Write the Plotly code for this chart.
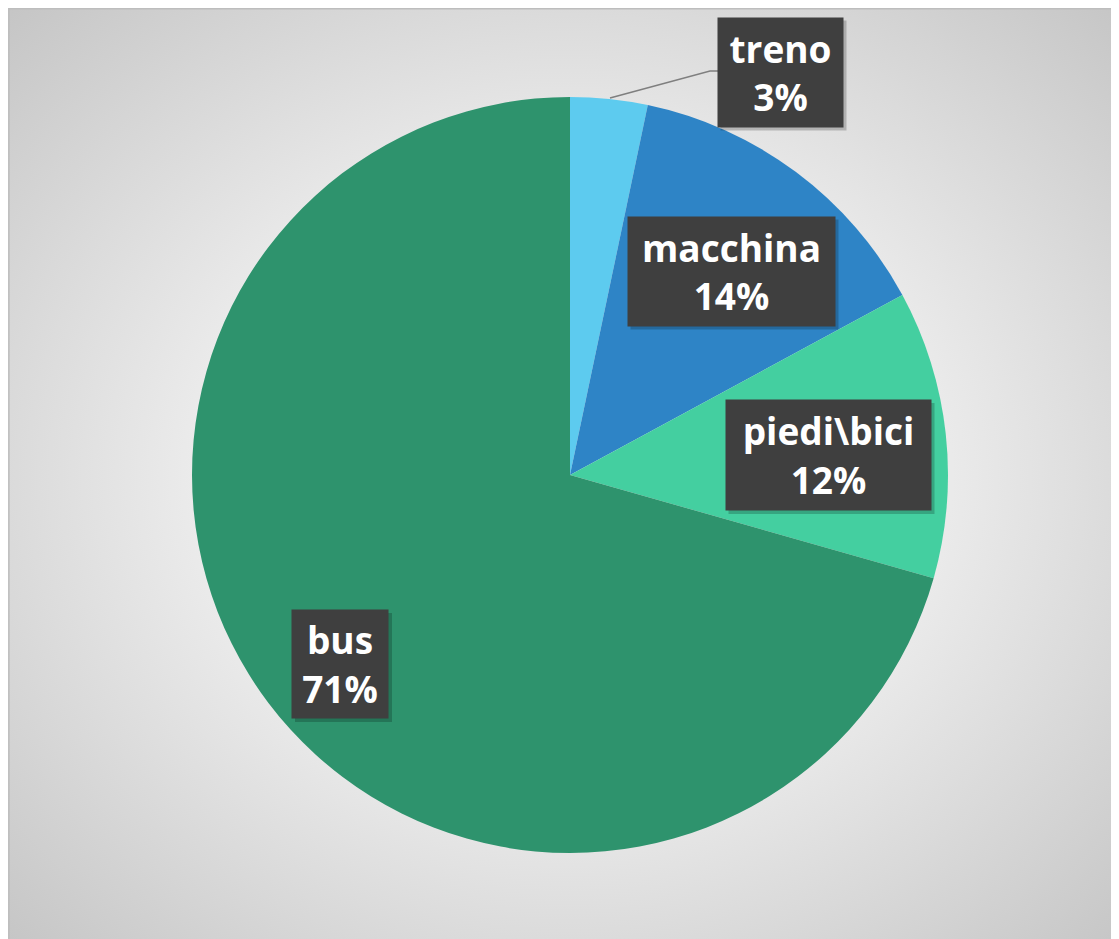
import base64
import plotly.graph_objects as go

W, H = 1119, 939
OFF = 8  # page body margin

categories = ["treno", "macchina", "piedi\\bici", "bus"]
values = [3.3, 13.8, 12.3, 70.6]
colors = ["#5DCBEF", "#2E84C6", "#44CFA0", "#2E936D"]

# label box centers (screen pixels) and sizes
label_pos = [(780, 72, 125, 109), (731, 271, 207, 109), (828, 455, 205, 110), (340, 664, 96, 108)]


def px(x):
    return (x - OFF) / W


def py(y):
    return 1 - (y - OFF) / H


svg = (
    f'<svg xmlns="http://www.w3.org/2000/svg" width="{W}" height="{H}" preserveAspectRatio="none">'
    '<defs><radialGradient id="g" cx="0.5" cy="0.5" r="0.72" gradientUnits="objectBoundingBox">'
    '<stop offset="0" stop-color="#f3f3f3"/><stop offset="0.45" stop-color="#ececec"/>'
    '<stop offset="1" stop-color="#c4c4c4"/></radialGradient></defs>'
    f'<rect width="{W}" height="{H}" fill="url(#g)"/></svg>'
)
src = "data:image/svg+xml;base64," + base64.b64encode(svg.encode()).decode()

cx, cy, R = 570, 475, 378

fig = go.Figure(
    go.Pie(
        labels=categories,
        values=values,
        sort=False,
        direction="clockwise",
        rotation=0,
        marker=dict(colors=colors, line=dict(width=0)),
        textinfo="none",
        hoverinfo="label+percent",
        domain=dict(x=[px(cx - R), px(cx + R)], y=[py(cy + R), py(cy - R)]),
        showlegend=False,
    )
)

shapes = [
    dict(type="rect", xref="paper", yref="paper", x0=0.0008, x1=1.01, y0=-0.01, y1=0.9992,
         line=dict(color="#bdbdbd", width=1.5), fillcolor="rgba(0,0,0,0)", layer="below"),
    dict(type="path", xref="paper", yref="paper",
         path=f"M {px(610)} {py(98)} L {px(710)} {py(71)} L {px(718)} {py(71)}",
         line=dict(color="#7f7f7f", width=1.5)),
]

annotations = []
total = sum(values)
for cat, v, (x, y, w, h) in zip(categories, values, label_pos):
    shapes.append(dict(type="rect", xref="paper", yref="paper",
                       x0=px(x - w / 2 + 3), x1=px(x + w / 2 + 4), y0=py(y + h / 2 + 4), y1=py(y - h / 2 + 3),
                       line=dict(width=0), fillcolor="rgba(0,0,0,0.2)"))
    annotations.append(dict(
        x=px(x), y=py(y), xref="paper", yref="paper", showarrow=False,
        xanchor="center", yanchor="middle",
        text=f"<b>{cat}</b><br><b>{round(v / total * 100)}%</b>",
        font=dict(family="Open Sans", size=37, color="white"),
        bgcolor="#3f3f3f", width=w, height=h, borderpad=0, align="center", valign="middle",
    ))

fig.update_layout(
    width=W, height=H,
    margin=dict(l=0, r=0, t=0, b=0),
    paper_bgcolor="white",
    images=[dict(source=src, xref="paper", yref="paper", x=0, y=1, sizex=1, sizey=1,
                 sizing="stretch", layer="below", xanchor="left", yanchor="top")],
    shapes=shapes,
    annotations=annotations,
)

fig.write_html("out.html")
